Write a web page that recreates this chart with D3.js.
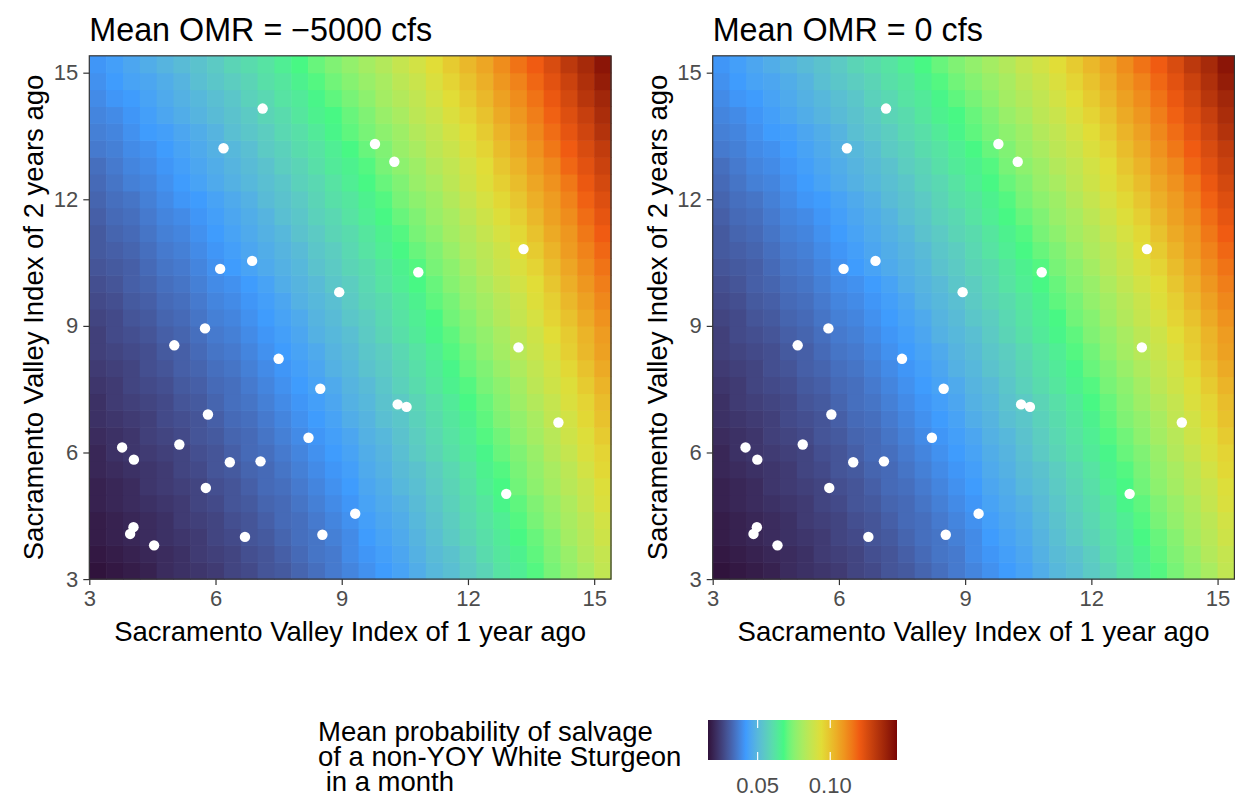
<!DOCTYPE html>
<html><head><meta charset="utf-8">
<script src="https://cdn.jsdelivr.net/npm/d3@7"></script>
<style>
body{margin:0;background:#fff}
text{font-family:"Liberation Sans",Arial,Helvetica,sans-serif}
</style>
</head><body>
<svg id="chart" width="1244" height="800"></svg>
<script>
// ---------------- data ----------------
const panelTitles = ["Mean OMR = \u22125000 cfs", "Mean OMR = 0 cfs"];
const xTickValues = [3, 6, 9, 12, 15];
const yTickValues = [3, 6, 9, 12, 15];
const axisLabelX = "Sacramento Valley Index of 1 year ago";
const axisLabelY = "Sacramento Valley Index of 2 years ago";
// raster cell centres (index of 1 year ago / 2 years ago)
const xCells = [3.2,3.6,4.0,4.4,4.8,5.2,5.6,6.0,6.4,6.8,7.2,7.6,8.0,8.4,8.8,9.2,9.6,10.0,10.4,10.8,11.2,11.6,12.0,12.4,12.8,13.2,13.6,14.0,14.4,14.8,15.2];
const yCells = [3.2,3.6,4.0,4.4,4.8,5.2,5.6,6.0,6.4,6.8,7.2,7.6,8.0,8.4,8.8,9.2,9.6,10.0,10.4,10.8,11.2,11.6,12.0,12.4,12.8,13.2,13.6,14.0,14.4,14.8,15.2];
// mean probability of salvage (per mille), rows from bottom (yCells[0]) to top
const salvagePermille = [
[16,17,18,19,21,22,23,24,26,27,29,30,32,34,36,38,40,42,44,47,50,52,55,58,62,65,69,73,77,81,86],
[17,18,19,20,21,22,24,25,26,28,29,31,33,35,36,39,41,43,45,48,51,53,56,60,63,66,70,74,78,83,87],
[18,19,20,21,22,23,24,26,27,29,30,32,34,35,37,39,42,44,46,49,52,55,58,61,64,68,71,75,80,84,89],
[18,19,20,21,22,24,25,26,28,29,31,33,34,36,38,40,43,45,47,50,53,56,59,62,65,69,73,77,81,85,90],
[19,20,21,22,23,24,26,27,29,30,32,33,35,37,39,41,44,46,48,51,54,57,60,63,67,70,74,78,82,87,92],
[19,20,21,23,24,25,26,28,29,31,33,34,36,38,40,42,45,47,50,52,55,58,61,65,68,72,76,80,84,88,93],
[20,21,22,23,24,26,27,29,30,32,33,35,37,39,41,43,46,48,51,53,56,59,62,66,69,73,77,81,85,90,95],
[20,22,23,24,25,26,28,29,31,33,34,36,38,40,42,44,47,49,52,55,58,61,64,67,71,74,78,83,87,92,96],
[21,22,23,25,26,27,29,30,32,33,35,37,39,41,43,45,48,50,53,56,59,62,65,69,72,76,80,84,89,93,98],
[22,23,24,25,27,28,29,31,33,34,36,38,40,42,44,47,49,52,54,57,60,63,66,70,74,77,81,86,90,95,100],
[22,24,25,26,27,29,30,32,34,35,37,39,41,43,45,48,50,53,55,58,61,64,68,71,75,79,83,87,92,96,101],
[23,24,26,27,28,30,31,33,34,36,38,40,42,44,46,49,51,54,57,60,63,66,69,73,76,80,85,89,93,98,103],
[24,25,26,28,29,31,32,34,35,37,39,41,43,45,48,50,53,55,58,61,64,67,71,74,78,82,86,90,95,100,105],
[25,26,27,28,30,31,33,35,36,38,40,42,44,46,49,51,54,56,59,62,65,69,72,76,80,84,88,92,97,102,107],
[25,27,28,29,31,32,34,36,37,39,41,43,45,48,50,52,55,58,61,64,67,70,74,77,81,85,89,94,98,103,108],
[26,27,29,30,32,33,35,37,38,40,42,44,46,49,51,54,56,59,62,65,68,72,75,79,83,87,91,96,100,105,110],
[27,28,30,31,33,34,36,38,39,41,43,45,48,50,52,55,58,60,63,66,70,73,77,80,84,88,93,97,102,107,112],
[28,29,31,32,34,35,37,39,40,42,44,47,49,51,54,56,59,62,65,68,71,75,78,82,86,90,94,99,104,109,114],
[29,30,31,33,35,36,38,40,42,44,46,48,50,53,55,58,60,63,66,69,73,76,80,84,88,92,96,101,106,111,116],
[30,31,32,34,36,37,39,41,43,45,47,49,51,54,56,59,62,65,68,71,74,78,82,85,89,94,98,103,108,113,118],
[30,32,33,35,37,38,40,42,44,46,48,50,53,55,58,60,63,66,69,73,76,80,83,87,91,95,100,105,109,115,120],
[31,33,34,36,38,39,41,43,45,47,49,52,54,57,59,62,65,68,71,74,78,81,85,89,93,97,102,107,111,117,122],
[32,34,35,37,39,41,42,44,46,48,51,53,55,58,61,63,66,69,73,76,79,83,87,91,95,99,104,108,113,119,124],
[33,35,37,38,40,42,44,46,48,50,52,54,57,59,62,65,68,71,74,78,81,85,89,93,97,101,106,110,115,121,126],
[34,36,38,39,41,43,45,47,49,51,53,56,58,61,64,66,69,73,76,79,83,86,90,94,99,103,108,112,118,123,128],
[36,37,39,40,42,44,46,48,50,52,55,57,60,62,65,68,71,74,78,81,85,88,92,96,101,105,110,115,120,125,130],
[37,38,40,42,43,45,47,49,52,54,56,59,61,64,67,70,73,76,79,83,86,90,94,98,103,107,112,117,122,127,133],
[38,39,41,43,45,47,49,51,53,55,58,60,63,66,68,71,74,78,81,85,88,92,96,100,105,109,114,119,124,129,135],
[39,41,42,44,46,48,50,52,54,57,59,62,64,67,70,73,76,80,83,86,90,94,98,102,107,111,116,121,126,132,137],
[40,42,44,45,47,49,52,54,56,58,61,63,66,69,72,75,78,81,85,88,92,96,100,104,109,113,118,123,128,134,140],
[41,43,45,47,49,51,53,55,58,60,62,65,68,71,74,77,80,83,87,90,94,98,102,106,111,116,120,125,131,136,142]
];
// observed years (white points)
const svi1Year = [7.12,6.19,6.11,6.87,8.94,9.79,10.25,13.32,10.82,5.75,5.02,7.50,8.49,5.82,8.21,3.78,5.14,4.06,6.34,7.07,5.77,4.05,3.97,4.54,6.70,8.54,9.32,10.33,10.54,13.20,14.15,12.91];
const svi2Year = [14.15,13.21,10.35,10.54,9.80,13.31,12.89,10.82,10.27,8.94,8.54,8.22,7.51,6.90,6.35,6.12,6.19,5.83,5.77,5.79,5.16,4.23,4.07,3.80,4.00,4.05,4.55,7.14,7.08,8.49,6.71,5.02];
// legend
const legendLimits = [0.0158, 0.146];
const legendTicks = [0.05, 0.10];
const legendTickLabels = ["0.05", "0.10"];
const legendTitle = ["Mean probability of salvage", "of a non-YOY White Sturgeon", " in a month"];

// ---------------- styles / layout ----------------
const turboStops = ["#30123B", "#3E9BFE", "#46F884", "#E1DD37", "#F05B12", "#7A0403"];
const svg = d3.select("#chart");
const panelLeft = [89.3, 712.7];
const panelWidth = 521.7;
const panelTop = 55.8, panelBottom = 579.1;
const base = 27.5;
const axisCol = "#333333", tickLabCol = "#4d4d4d";

const stops = turboStops.map((_, k) => legendLimits[0] + k / (turboStops.length - 1) * (legendLimits[1] - legendLimits[0]));
const color = d3.scaleLinear().domain(stops).range(turboStops)
  .interpolate(d3.interpolateLab).clamp(true);

const hx = (xCells[1] - xCells[0]) / 2;
const hy = (yCells[1] - yCells[0]) / 2;
const xDomain = [xCells[0] - hx, xCells[xCells.length - 1] + hx];
const yDomain = [yCells[0] - hy, yCells[yCells.length - 1] + hy];

const cells = [];
salvagePermille.forEach((row, j) => row.forEach((v, i) => cells.push({x: xCells[i], y: yCells[j], p: v / 1000})));
const points = svi1Year.map((x, k) => ({x, y: svi2Year[k]}));

panelTitles.forEach((title, k) => {
  const x0 = panelLeft[k];
  const xs = d3.scaleLinear().domain(xDomain).range([x0, x0 + panelWidth]);
  const ys = d3.scaleLinear().domain(yDomain).range([panelBottom, panelTop]);
  const g = svg.append("g");

  g.append("g").selectAll("rect").data(cells).join("rect")
    .attr("x", d => xs(d.x - hx))
    .attr("y", d => ys(d.y + hy))
    .attr("width", d => xs(d.x + hx) - xs(d.x - hx) + 0.6)
    .attr("height", d => ys(d.y - hy) - ys(d.y + hy) + 0.6)
    .attr("fill", d => color(d.p));

  g.append("g").selectAll("circle").data(points).join("circle")
    .attr("cx", d => xs(d.x)).attr("cy", d => ys(d.y)).attr("r", 5.2)
    .attr("fill", "#ffffff");

  g.append("rect").attr("x", x0).attr("y", panelTop)
    .attr("width", panelWidth).attr("height", panelBottom - panelTop)
    .attr("fill", "none").attr("stroke", axisCol).attr("stroke-width", 1.2);

  const xAxis = g.append("g").attr("transform", `translate(0,${panelBottom})`)
    .call(d3.axisBottom(xs).tickValues(xTickValues).tickSize(6).tickPadding(5).tickFormat(d3.format("d")));
  const yAxis = g.append("g").attr("transform", `translate(${x0},0)`)
    .call(d3.axisLeft(ys).tickValues(yTickValues).tickSize(6).tickPadding(5).tickFormat(d3.format("d")));
  [xAxis, yAxis].forEach(a => {
    a.select(".domain").remove();
    a.selectAll(".tick line").attr("stroke", axisCol).attr("stroke-width", 1.2);
    a.selectAll(".tick text").attr("fill", tickLabCol).style("font-size", (base * 0.8) + "px")
      .style("font-family", "'Liberation Sans',Arial,sans-serif");
  });

  g.append("text").attr("x", x0).attr("y", 41).text(title)
    .style("font-size", "32.3px").attr("fill", "#000");

  g.append("text").attr("x", x0 + panelWidth / 2).attr("y", 641).attr("text-anchor", "middle")
    .text(axisLabelX).style("font-size", base + "px").attr("fill", "#000");

  g.append("text").attr("transform", `translate(${x0 - 46},${(panelTop + panelBottom) / 2}) rotate(-90)`)
    .attr("text-anchor", "middle").text(axisLabelY).style("font-size", base + "px").attr("fill", "#000");
});

// ---------------- legend ----------------
const lg = svg.append("g");
const barX0 = 708, barX1 = 897, barY = 720, barH = 40;
const ls = d3.scaleLinear().domain(legendLimits).range([barX0, barX1]);
const grad = svg.append("defs").append("linearGradient").attr("id", "cbar");
d3.range(0, 1.0001, 0.02).forEach(f => {
  grad.append("stop").attr("offset", f).attr("stop-color", color(ls.invert(barX0 + f * (barX1 - barX0))));
});
lg.append("rect").attr("x", barX0).attr("y", barY).attr("width", barX1 - barX0).attr("height", barH)
  .attr("fill", "url(#cbar)");
legendTicks.forEach((t, k) => {
  lg.append("line").attr("x1", ls(t)).attr("x2", ls(t)).attr("y1", barY).attr("y2", barY + barH / 5)
    .attr("stroke", "#fff").attr("stroke-width", 1.2);
  lg.append("line").attr("x1", ls(t)).attr("x2", ls(t)).attr("y1", barY + barH - barH / 5).attr("y2", barY + barH)
    .attr("stroke", "#fff").attr("stroke-width", 1.2);
  lg.append("text").attr("x", ls(t)).attr("y", 793).attr("text-anchor", "middle")
    .text(legendTickLabels[k]).style("font-size", (base * 0.8) + "px").attr("fill", tickLabCol);
});
legendTitle.forEach((line, k) => {
  lg.append("text").attr("x", 318).attr("y", 741 + k * 25).text(line)
    .style("font-size", base + "px").style("white-space", "pre").attr("fill", "#000");
});
</script>
</body></html>
